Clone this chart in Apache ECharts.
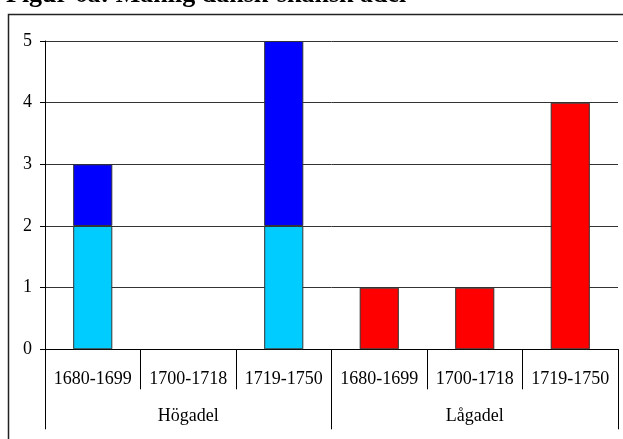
<!DOCTYPE html>
<html><head><meta charset="utf-8">
<script src="https://cdn.jsdelivr.net/npm/echarts@6/dist/echarts.min.js"></script>
<style>html,body{margin:0;padding:0;background:#fff;}#c{width:623px;height:439px;}</style>
</head><body><div id="c"></div>
<script>
const periods = ['1680-1699','1700-1718','1719-1750','1680-1699','1700-1718','1719-1750'];
const groups = ['Högadel','Lågadel'];
const lightBlue = [2, 0, 2, 0, 0, 0];
const blue = [1, 0, 3, 0, 0, 0];
const red = [0, 0, 0, 1, 1, 4];
const yTicks = {min: 0, max: 5, interval: 1};
const titleText = 'Figur 6a: Manlig dansk-skånsk adel';

const F = 'Liberation Serif';
const noZero = arr => arr.map(v => (v === 0 ? null : v));
const chart = echarts.init(document.getElementById('c'), null, {renderer: 'canvas'});
const barStyle = c => ({color: c, borderColor: '#333', borderWidth: 1});
chart.setOption({
  animation: false,
  backgroundColor: '#fff',
  graphic: [
    {type: 'rect', shape: {x: 8.5, y: 14.5, width: 700, height: 500}, style: {fill: 'none', stroke: '#222', lineWidth: 1.5}, z: 100},
    {type: 'text', x: 6, y: 8.5, style: {text: titleText, font: 'bold 26px "Liberation Serif"', fill: '#000', verticalAlign: 'bottom', align: 'left'}}
  ],
  grid: {left: 45, right: 5, top: 41, bottom: 89.7, containLabel: false},
  xAxis: [
    {type: 'category', data: periods, position: 'bottom',
     axisLine: {show: true, lineStyle: {color: '#000', width: 1}},
     axisTick: {show: true, interval: 0, length: 40, lineStyle: {color: '#000'}},
     axisLabel: {interval: 0, margin: 21, fontFamily: F, fontSize: 18, color: '#000'}},
    {type: 'category', data: groups, position: 'bottom', gridIndex: 0,
     axisLine: {show: false},
     axisTick: {show: true, interval: 0, length: 80, lineStyle: {color: '#000'}},
     axisLabel: {interval: 0, margin: 58, fontFamily: F, fontSize: 18, color: '#000'}}
  ],
  yAxis: {type: 'value', min: yTicks.min, max: yTicks.max, interval: yTicks.interval,
    axisLine: {show: true, lineStyle: {color: '#000'}},
    axisTick: {show: true, length: 5, lineStyle: {color: '#000'}},
    axisLabel: {margin: 13, fontFamily: F, fontSize: 18, color: '#000'},
    splitLine: {show: true, lineStyle: {color: '#333', width: 1}}},
  series: [
    {type: 'bar', stack: 's', data: noZero(lightBlue), barWidth: '41%', itemStyle: barStyle('#00CCFF')},
    {type: 'bar', stack: 's', data: noZero(blue), barWidth: '41%', itemStyle: barStyle('#0000FF')},
    {type: 'bar', stack: 's', data: noZero(red), barWidth: '41%', itemStyle: barStyle('#FF0000')}
  ]
});
</script></body></html>
